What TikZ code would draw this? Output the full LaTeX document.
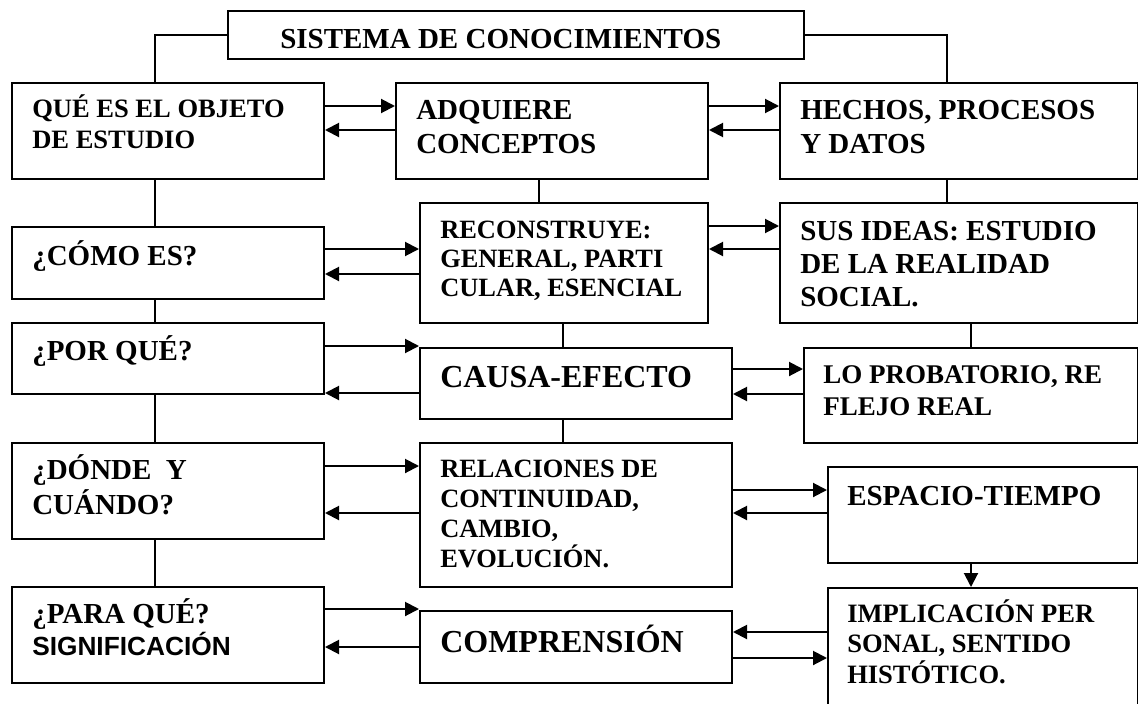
\documentclass[tikz,border=0pt]{standalone}
\usepackage{fontspec}
\setmainfont{Liberation Serif}
\newfontfamily\arialf{Liberation Sans}
\usetikzlibrary{arrows.meta}
\newcommand\vlines[1]{\vtop{\halign{##\hfil\cr#1\crcr}}}
\tikzset{
  bx/.style 2 args={draw, line width=1.5pt, inner sep=0pt, anchor=north west,
    minimum width=#1*0.75pt, minimum height=#2*0.75pt},
  txt/.style 2 args={inner sep=0pt, anchor=base west,
    font=\bfseries\fontsize{#1}{#2}\selectfont},
  ln/.style={line width=1.5pt},
  arr/.style={line width=1.5pt, -{Triangle[length=10.5pt,width=10.5pt]}},
}
\begin{document}
\begin{tikzpicture}[x=0.75pt,y=-0.75pt]
\useasboundingbox (0,0) rectangle (1138,703);
\clip (0,0) rectangle (1138,703);
% columns of connectors
\coordinate (colA) at (155,0);
\coordinate (colB1) at (539,0);
\coordinate (colB) at (563,0);
\coordinate (colC1) at (947,0);
\coordinate (colC) at (971,0);
% boxes
\node[bx={576}{48}] (t) at (227,10) {};
\node[bx={312}{96}] (a1) at (11,82) {};
\node[bx={312}{96}] (b1) at (395,82) {};
\node[bx={358}{96}] (c1) at (779,82) {};
\node[bx={312}{72}] (a2) at (11,226) {};
\node[bx={288}{120}] (b2) at (419,202) {};
\node[bx={358}{120}] (c2) at (779,202) {};
\node[bx={312}{71}] (a3) at (11,322) {};
\node[bx={312}{71}] (b3) at (419,347) {};
\node[bx={334}{95}] (c3) at (803,347) {};
\node[bx={312}{96}] (a4) at (11,442) {};
\node[bx={312}{144}] (b4) at (419,442) {};
\node[bx={310}{96}] (c4) at (827,466) {};
\node[bx={312}{96}] (a5) at (11,586) {};
\node[bx={312}{72}] (b5) at (419,610) {};
\node[bx={310}{140}] (c5) at (827,587) {};
% texts
\node[txt={21.75pt}{25.5pt}] (tt) at (280,48) {SISTEMA DE CONOCIMIENTOS};
\node[txt={19.9pt}{23.25pt}] (a1t) at (32,117) {\vlines{QUÉ ES EL OBJETO\cr DE ESTUDIO}};
\node[txt={21.75pt}{25.5pt}] (b1t) at (416,119) {\vlines{ADQUIERE\cr CONCEPTOS}};
\node[txt={21.75pt}{25.5pt}] (c1t) at (800,119) {\vlines{HECHOS, PROCESOS\cr Y DATOS}};
\node[txt={21.75pt}{25.5pt}] (a2t) at (32,265) {¿CÓMO ES?};
\node[txt={19.8pt}{21.75pt}] (b2t) at (440,238) {\vlines{RECONSTRUYE:\cr GENERAL, PARTI\cr CULAR, ESENCIAL}};
\node[txt={21.75pt}{25.1pt}] (c2t) at (800,240) {\vlines{SUS IDEAS: ESTUDIO\cr DE LA REALIDAD\cr SOCIAL.}};
\node[txt={21.75pt}{25.5pt}] (a3t) at (32,360) {¿POR QUÉ?};
\node[txt={24pt}{27pt}] (b3t) at (440,387) {CAUSA-EFECTO};
\node[txt={20.25pt}{24pt}] (c3t) at (823,383) {\vlines{LO PROBATORIO, RE\cr FLEJO REAL}};
\node[txt={21.75pt}{26.25pt}] (a4t) at (32,479) {\vlines{¿DÓNDE\ \ Y\cr CUÁNDO?}};
\node[txt={19.8pt}{22.7pt}] (b4t) at (440,477) {\vlines{RELACIONES DE\cr CONTINUIDAD,\cr CAMBIO,\cr EVOLUCIÓN.}};
\node[txt={21.75pt}{25.5pt}] (c4t) at (847,505) {ESPACIO-TIEMPO};
\node[txt={21.75pt}{24pt}] (a5t) at (32,623) {\vlines{¿PARA QUÉ?\cr {\arialf\fontsize{19.7pt}{24pt}\selectfont SIGNIFICACIÓN}}};
\node[txt={24pt}{27pt}] (b5t) at (440,652) {COMPRENSIÓN};
\node[txt={19.9pt}{22.9pt}] (c5t) at (847,622) {\vlines{IMPLICACIÓN PER\cr SONAL, SENTIDO\cr HISTÓTICO.}};
% plain connectors
\draw[ln] (t.west) -| (colA |- a1.north);
\draw[ln] (t.east) -| (colC1 |- c1.north);
\draw[ln] (colA |- a1.south) -- (colA |- a2.north);
\draw[ln] (colA |- a2.south) -- (colA |- a3.north);
\draw[ln] (colA |- a3.south) -- (colA |- a4.north);
\draw[ln] (colA |- a4.south) -- (colA |- a5.north);
\draw[ln] (colB1 |- b1.south) -- (colB1 |- b2.north);
\draw[ln] (colB |- b2.south) -- (colB |- b3.north);
\draw[ln] (colB |- b3.south) -- (colB |- b4.north);
\draw[ln] (colC1 |- c1.south) -- (colC1 |- c2.north);
\draw[ln] (colC |- c2.south) -- (colC |- c3.north);
\draw[arr] (colC |- c4.south) -- (colC |- c5.north);
% arrows row 1
\draw[arr] (a1.east |- 0,106) -- (b1.west |- 0,106);
\draw[arr] (b1.west |- 0,130) -- (a1.east |- 0,130);
\draw[arr] (b1.east |- 0,106) -- (c1.west |- 0,106);
\draw[arr] (c1.west |- 0,130) -- (b1.east |- 0,130);
% row 2
\draw[arr] (a2.east |- 0,249) -- (b2.west |- 0,249);
\draw[arr] (b2.west |- 0,274) -- (a2.east |- 0,274);
\draw[arr] (b2.east |- 0,226) -- (c2.west |- 0,226);
\draw[arr] (c2.west |- 0,249) -- (b2.east |- 0,249);
% row 3
\draw[arr] (a3.east |- 0,346) -- (b3.west |- 0,346);
\draw[arr] (b3.west |- 0,393) -- (a3.east |- 0,393);
\draw[arr] (b3.east |- 0,369) -- (c3.west |- 0,369);
\draw[arr] (c3.west |- 0,394) -- (b3.east |- 0,394);
% row 4
\draw[arr] (a4.east |- 0,466) -- (b4.west |- 0,466);
\draw[arr] (b4.west |- 0,513) -- (a4.east |- 0,513);
\draw[arr] (b4.east |- 0,490) -- (c4.west |- 0,490);
\draw[arr] (c4.west |- 0,513) -- (b4.east |- 0,513);
% row 5
\draw[arr] (a5.east |- 0,609) -- (b5.west |- 0,609);
\draw[arr] (b5.west |- 0,647) -- (a5.east |- 0,647);
\draw[arr] (c5.west |- 0,632) -- (b5.east |- 0,632);
\draw[arr] (b5.east |- 0,658) -- (c5.west |- 0,658);
\end{tikzpicture}
\end{document}
